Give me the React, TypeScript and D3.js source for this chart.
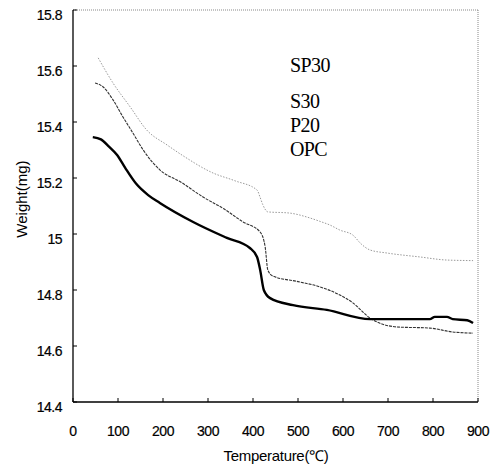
import React, { useEffect, useRef } from 'react';
import * as d3 from 'd3';

// TGA curves: [temperature, weight]
const sp30: [number, number][] = [
  [56, 15.629], [89, 15.539], [127, 15.454], [164, 15.371], [209, 15.318], [244, 15.28],
  [311, 15.218], [360, 15.19], [409, 15.157], [416, 15.13], [422, 15.104], [433, 15.079],
  [480, 15.075], [527, 15.057], [549, 15.045], [571, 15.032], [593, 15.014], [622, 14.996],
  [640, 14.965], [660, 14.943], [698, 14.932], [771, 14.918], [831, 14.907], [889, 14.905]
];
const s30: [number, number][] = [
  [49, 15.539], [67, 15.525], [89, 15.479], [111, 15.418], [133, 15.361], [156, 15.3],
  [193, 15.229], [240, 15.185], [289, 15.132], [335, 15.09], [378, 15.043], [416, 15.007],
  [427, 14.954], [433, 14.871], [444, 14.85], [500, 14.83], [549, 14.811], [593, 14.782],
  [622, 14.754], [660, 14.7], [720, 14.668], [793, 14.664], [844, 14.65], [889, 14.646]
];
const opc: [number, number][] = [
  [44, 15.346], [62, 15.338], [80, 15.312], [98, 15.282], [116, 15.236], [140, 15.18],
  [167, 15.139], [193, 15.111], [267, 15.043], [342, 14.986], [393, 14.95], [409, 14.918],
  [416, 14.871], [424, 14.8], [438, 14.771], [489, 14.746], [564, 14.729], [660, 14.696],
  [793, 14.696], [804, 14.704], [831, 14.704], [844, 14.696], [876, 14.692], [889, 14.682]
];
const labels = ['SP30', 'S30', 'P20', 'OPC'];
const xTicks = [0, 100, 200, 300, 400, 500, 600, 700, 800, 900];
const yTicks = [14.4, 14.6, 14.8, 15, 15.2, 15.4, 15.6, 15.8];

export default function App() {
  const ref = useRef<SVGSVGElement>(null);

  useEffect(() => {
    const svg = d3.select(ref.current);
    svg.selectAll('*').remove();
    const left = 73, right = 478, top = 10, bottom = 402;
    const x = d3.scaleLinear().domain([0, 900]).range([left, right]);
    const y = d3.scaleLinear().domain([14.4, 15.8]).range([bottom, top]);
    const font = 'Liberation Sans, Arial, sans-serif';

    // frame: top/right dotted grey, left/bottom solid
    svg.append('line').attr('x1', left).attr('x2', right).attr('y1', top).attr('y2', top)
      .attr('stroke', '#888').attr('stroke-dasharray', '1,1');
    svg.append('line').attr('x1', right).attr('x2', right).attr('y1', top).attr('y2', bottom)
      .attr('stroke', '#888').attr('stroke-dasharray', '1,1');
    svg.append('line').attr('x1', left).attr('x2', left).attr('y1', top).attr('y2', bottom)
      .attr('stroke', '#000').attr('stroke-width', 1.3);
    svg.append('line').attr('x1', left).attr('x2', right).attr('y1', bottom).attr('y2', bottom)
      .attr('stroke', '#000').attr('stroke-width', 1.3);

    // ticks (inward)
    svg.append('g').selectAll('line').data(xTicks).enter().append('line')
      .attr('x1', d => x(d)).attr('x2', d => x(d)).attr('y1', bottom).attr('y2', bottom - 4)
      .attr('stroke', '#000');
    svg.append('g').selectAll('line').data(yTicks).enter().append('line')
      .attr('x1', left).attr('x2', left + 4).attr('y1', d => y(d)).attr('y2', d => y(d))
      .attr('stroke', '#000');

    svg.append('g').selectAll('text').data(xTicks).enter().append('text')
      .attr('x', d => x(d)).attr('y', 436).attr('text-anchor', 'middle')
      .attr('font-family', font).attr('font-size', 14).attr('letter-spacing', -0.5)
      .attr('stroke', '#000').attr('stroke-width', 0.2)
      .text(d => d);
    svg.append('g').selectAll('text').data(yTicks).enter().append('text')
      .attr('x', 62).attr('y', d => y(d) + 10).attr('text-anchor', 'end')
      .attr('font-family', font).attr('font-size', 14).attr('letter-spacing', -0.5)
      .attr('stroke', '#000').attr('stroke-width', 0.2)
      .text(d => d3.format('~g')(d));

    svg.append('text').attr('transform', 'translate(27,199) rotate(-90)')
      .attr('text-anchor', 'middle').attr('font-family', font).attr('font-size', 15)
      .text('Weight(mg)');
    svg.append('text').attr('x', 276).attr('y', 461).attr('text-anchor', 'middle')
      .attr('font-family', font).attr('font-size', 15).attr('letter-spacing', -0.3)
      .text('Temperature(℃)');

    const line = d3.line<[number, number]>().x(d => x(d[0])).y(d => y(d[1])).curve(d3.curveMonotoneX);
    svg.append('path').datum(sp30).attr('d', line).attr('fill', 'none')
      .attr('stroke', '#9a9a9a').attr('stroke-width', 1).attr('stroke-dasharray', '1.5,1.5');
    svg.append('path').datum(s30).attr('d', line).attr('fill', 'none')
      .attr('stroke', '#333').attr('stroke-width', 1.1).attr('stroke-dasharray', '3,1');
    svg.append('path').datum(opc).attr('d', line).attr('fill', 'none')
      .attr('stroke', '#000').attr('stroke-width', 2.4);

    // series labels
    const ys = [72, 108, 132, 156];
    svg.append('g').selectAll('text').data(labels).enter().append('text')
      .attr('x', 290).attr('y', (d, i) => ys[i])
      .attr('font-family', 'Liberation Serif, Times New Roman, serif').attr('font-size', 20)
      .attr('letter-spacing', -0.6)
      .text(d => d);
  }, []);

  return (
    <svg ref={ref} width={502} height={469}
      style={{ position: 'absolute', left: 0, top: 0, background: '#fff' }} />
  );
}
